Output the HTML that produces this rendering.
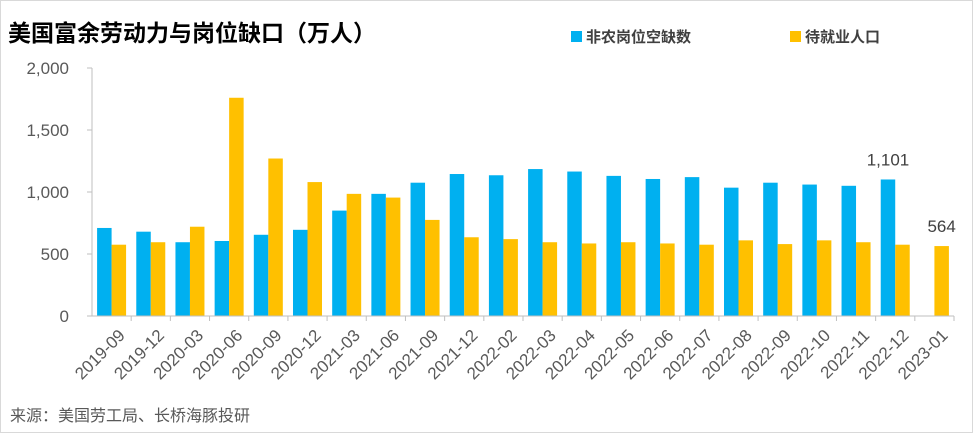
<!DOCTYPE html>
<html><head><meta charset="utf-8"><style>
body{margin:0;background:#fff;}
svg{display:block;font-family:"Liberation Sans","Noto Sans CJK SC",sans-serif;}
</style></head><body>
<svg id="c" width="973" height="433">
<rect x="0.5" y="0.5" width="972" height="432" fill="#fff" stroke="#d9d9d9"/>
<text x="8" y="41" font-size="23" font-weight="bold" fill="#000">美国富余劳动力与岗位缺口（万人）</text>
<rect x="571" y="31" width="11" height="11" fill="#00b0f0"/>
<text x="586" y="42" font-size="15" font-weight="bold" fill="#404040">非农岗位空缺数</text>
<rect x="790" y="31" width="11" height="11" fill="#ffc000"/>
<text x="805" y="42" font-size="15" font-weight="bold" fill="#404040">待就业人口</text>
<text x="10" y="421" font-size="16" fill="#595959">来源：美国劳工局、长桥海豚投研</text>
<g id="plot"></g>
</svg>
<script>
const categories=["2019-09","2019-12","2020-03","2020-06","2020-09","2020-12","2021-03","2021-06","2021-09","2021-12","2022-02","2022-03","2022-04","2022-05","2022-06","2022-07","2022-08","2022-09","2022-10","2022-11","2022-12","2023-01"];
const openings=[710,680,595,605,655,695,850,985,1075,1145,1135,1185,1165,1130,1105,1120,1035,1075,1060,1050,1101,null];
const unemployed=[575,595,720,1760,1270,1080,985,955,775,635,620,595,585,595,585,575,610,580,610,595,575,564];
const yTicks=[0,500,1000,1500,2000];
const yTickLabels=["0","500","1,000","1,500","2,000"];
const NS="http://www.w3.org/2000/svg";
const g=document.getElementById('plot');
const x0=92,x1=954,y0=316,y1=68,ymax=2000;
const step=(x1-x0)/categories.length;
const y=v=>y0-(v/ymax)*(y0-y1);
const cx=i=>x0+step*(i+0.5);
function mk(t,a){const e=document.createElementNS(NS,t);for(const k in a)e.setAttribute(k,a[k]);g.appendChild(e);return e;}
yTicks.forEach((v,i)=>{
 const t=mk('text',{x:x0-23,y:y(v)+6,'text-anchor':'end','font-size':17,fill:'#595959'});
 t.textContent=yTickLabels[i];
 
 
 const l=mk('line',{x1:x0-5,x2:x0,y1:y(v),y2:y(v),stroke:'#bfbfbf'});
 
 
});
const bw=14.5;
categories.forEach((c,i)=>{
 if(openings[i]!=null){
  const r=mk('rect',{x:cx(i)-bw,y:y(openings[i]),width:bw,height:y0-y(openings[i]),fill:'#00b0f0'});
  
  
 }
 const r2=mk('rect',{x:cx(i),y:y(unemployed[i]),width:bw,height:y0-y(unemployed[i]),fill:'#ffc000'});
 
 
 const tk=mk('line',{x1:x0+step*(i+1),x2:x0+step*(i+1),y1:y0,y2:y0+5,stroke:'#bfbfbf'});
 
 
 const lx=cx(i)+6,ly=y0+12;
 const t=mk('text',{x:lx,y:ly,'text-anchor':'end','font-size':17,fill:'#595959',transform:`rotate(-45 ${lx} ${ly})`,dy:'0.7em'});
 t.textContent=c;
 
 
});
const ax=mk('line',{x1:x0,x2:x0,y1:y1,y2:y0,stroke:'#bfbfbf'});


const bx=mk('line',{x1:x0,x2:x1,y1:y0,y2:y0,stroke:'#bfbfbf'});


const li=20;
const l1=mk('text',{x:cx(li)-bw/2,y:y(openings[li])-14,'text-anchor':'middle','font-size':17,fill:'#404040'});
l1.textContent=openings[li].toLocaleString('en-US');


const lj=21;
const l2=mk('text',{x:cx(lj)+bw/2,y:y(unemployed[lj])-14,'text-anchor':'middle','font-size':17,fill:'#404040'});
l2.textContent=unemployed[lj].toLocaleString('en-US');


</script>
</body></html>
